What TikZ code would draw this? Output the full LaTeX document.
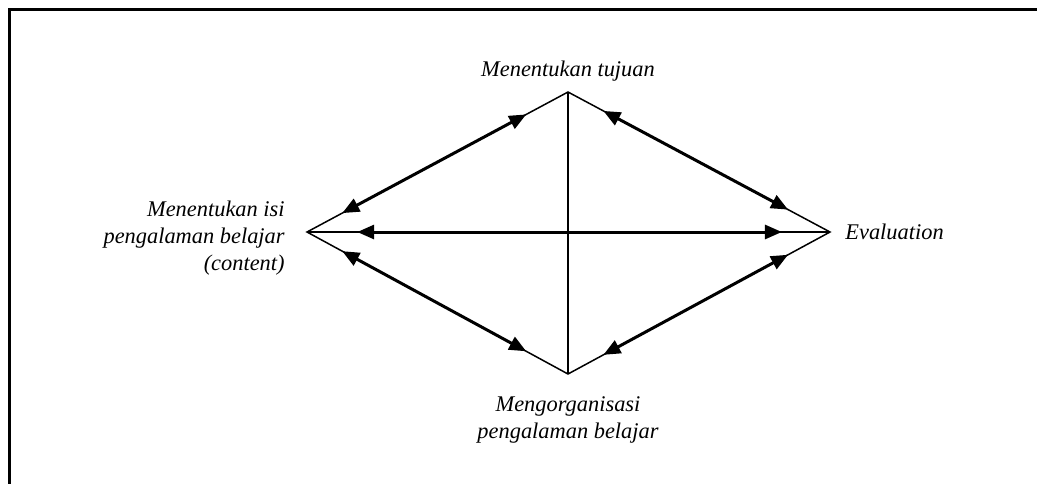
\documentclass[tikz,border=0pt]{standalone}
\usepackage{fontspec}
\setmainfont{Liberation Serif}
\usetikzlibrary{arrows.meta,positioning,calc}

\begin{document}
\begin{tikzpicture}[
    x=0.5pt, y=-0.5pt,
    font=\fontsize{11.2}{13.6}\selectfont\itshape,
    edge/.style={line width=0.75pt},
    link/.style={{Triangle[length=8.5pt,width=7pt]}-{Triangle[length=8.5pt,width=7pt]}, line width=1.5pt},
    lbl/.style={inner sep=0pt}
]
\useasboundingbox (0,0) rectangle (1037,484);
\draw[line width=1.5pt] (1037,9) -- (9,9) -- (9,484);

\coordinate (tujuan) at (568,92);
\coordinate (organisasi) at (568,374);
\coordinate (isi) at (307,232);
\coordinate (evaluasi) at (830,232);

\node[lbl, above=5pt of tujuan] (ltujuan) {Menentukan tujuan};
\node[lbl, left=11pt of isi, yshift=-3pt, align=right] (lisi) {Menentukan isi\\pengalaman belajar\\(content)};
\node[lbl, right=7.5pt of evaluasi] (levaluasi) {Evaluation};
\node[lbl, below=11pt of organisasi, align=center] (lorganisasi) {Mengorganisasi\\pengalaman belajar};

% diamond and middle line
\draw[edge] (isi) -- (tujuan) -- (evaluasi) -- (organisasi) -- cycle;
\draw[edge] (tujuan) -- (organisasi);
\draw[edge] (isi) -- (evaluasi);

\foreach \a/\b in {isi/tujuan, tujuan/evaluasi, isi/organisasi, organisasi/evaluasi}
  \draw[link] ($(\a)!0.135!(\b)$) -- ($(\a)!0.84!(\b)$);
\draw[link] ($(isi)!0.096!(evaluasi)$) -- ($(isi)!0.908!(evaluasi)$);
\end{tikzpicture}
\end{document}
